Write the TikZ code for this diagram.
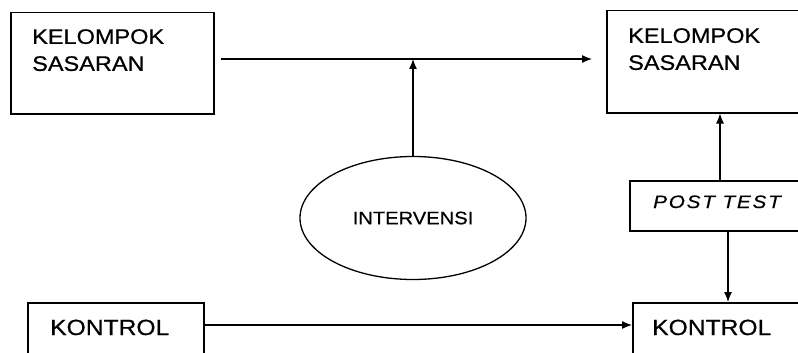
\documentclass[tikz,border=0pt]{standalone}
\usepackage{fontspec}
\setmainfont{Liberation Sans}
\newfontfamily\boxfont[FakeStretch=1.12,FakeBold=0.6]{Liberation Sans}
\newfontfamily\postfont[FakeStretch=1.15,FakeBold=0.5,LetterSpace=10]{Liberation Sans}
\usetikzlibrary{positioning}
\usetikzlibrary{arrows.meta}
\usetikzlibrary{shapes.geometric}
\tikzset{box/.style = {draw, line width=1.5pt, rectangle, inner sep=0,
                       anchor=north west}}
\tikzset{txt/.style = {inner sep=0, anchor=north west, align=left}}
\tikzset{arr/.style = {line width=1.2pt, -{Latex[length=10pt,width=8pt]}}}

\begin{document}
\begin{tikzpicture}[x=1pt,y=-1pt]
      \useasboundingbox (0,0) rectangle (798,353);
      \clip (0,0) rectangle (798,353);
      % boxes
      \node[box, minimum width=203, minimum height=101]
        (grp1) at (10,12) {};
      \node[box, minimum width=230, minimum height=102]
        (grp2) at (606,10) {};
      \node[box, minimum width=220, minimum height=50]
        (post) at (629,180) {};
      \node[box, minimum width=176, minimum height=80]
        (ctl1) at (27,302) {};
      \node[box, minimum width=220, minimum height=80]
        (ctl2) at (632,302) {};
      \node[ellipse, draw, line width=1.3pt, inner sep=0,
            minimum width=226, minimum height=123]
        (int) at (413,218) {};
      % texts
      \node[txt, font=\boxfont\fontsize{21}{27}\selectfont]
        (grp1t) at (32,29) {KELOMPOK\\SASARAN};
      \node[txt, font=\boxfont\fontsize{21}{27}\selectfont]
        (grp2t) at (628,28) {KELOMPOK\\SASARAN};
      \node[font=\boxfont\fontsize{18}{22}\selectfont, inner sep=0]
        (intt) at (int.center) {INTERVENSI};
      \node[inner sep=0, anchor=base west,
            font=\postfont\itshape\fontsize{18}{22}\selectfont]
        (postt) at (653,208) {POST TEST};
      \node[inner sep=0, anchor=base west,
            font=\boxfont\fontsize{22}{26}\selectfont]
        (ctl1t) at (50,335) {KONTROL};
      \node[inner sep=0, anchor=base west,
            font=\boxfont\fontsize{22}{26}\selectfont]
        (ctl2t) at (652,335) {KONTROL};
      % connectors
      \coordinate (top) at (0,59);
      \coordinate (bot) at (0,325);
      \coordinate (upx) at (720,0);
      \coordinate (dnx) at (728,0);
      \coordinate (join) at (int.north |- top);
      \draw[arr, shorten <=6pt, shorten >=14pt]
        (grp1.east |- top) -- (grp2.west |- top);
      \draw[arr] (int.north) -- (join);
      \draw[arr] (post.north -| upx) -- (grp2.south -| upx);
      \draw[arr] (post.south -| dnx) -- (ctl2.north -| dnx);
      \draw[arr] (ctl1.east |- bot) -- (ctl2.west |- bot);
    \end{tikzpicture}
\end{document}
